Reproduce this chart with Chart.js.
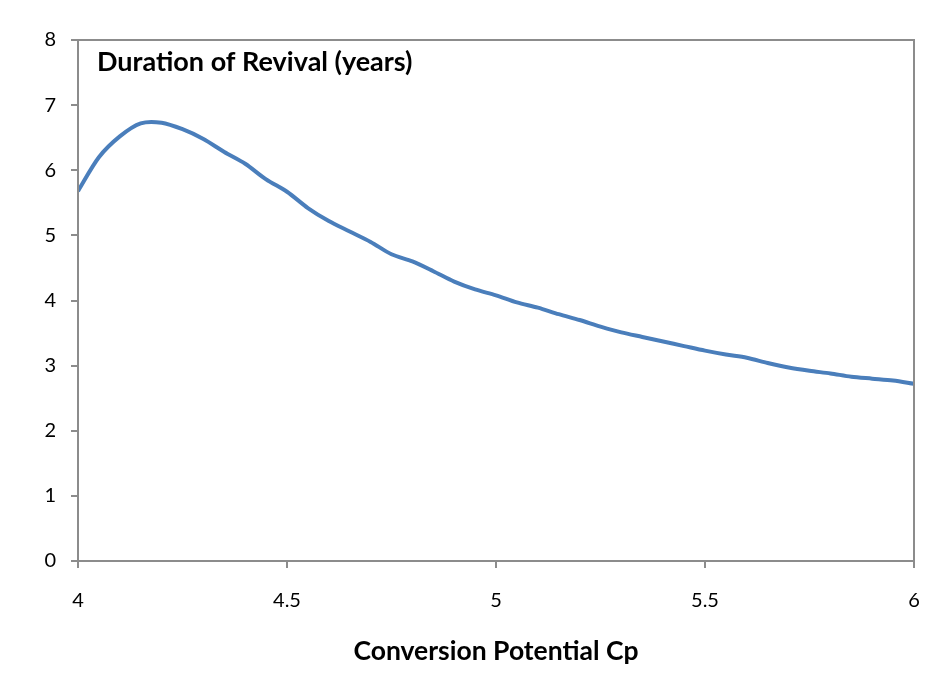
<!DOCTYPE html>
<html>
<head>
<meta charset="utf-8">
<script src="https://cdn.jsdelivr.net/npm/chart.js@4.4.1/dist/chart.umd.min.js"></script>
<style>
  html, body { margin:0; padding:0; background:#fff; }
  #wrap { width:935px; height:677px; }
</style>
</head>
<body>
<div id="wrap"><canvas id="grafico" width="935" height="677"></canvas></div>
<script>
// ─── DADOS ───────────────────────────────────────────────────────────────────
const cp       = [4.00,4.05,4.10,4.15,4.20,4.25,4.30,4.35,4.40,4.45,4.50,4.55,4.60,4.65,4.70,4.75,4.80,4.85,4.90,4.95,
                  5.00,5.05,5.10,5.15,5.20,5.25,5.30,5.35,5.40,5.45,5.50,5.55,5.60,5.65,5.70,5.75,5.80,5.85,5.90,5.95,6.00];
const duracao  = [5.68,6.20,6.52,6.72,6.73,6.63,6.48,6.28,6.10,5.86,5.67,5.42,5.22,5.06,4.90,4.71,4.60,4.45,4.29,4.17,
                  4.08,3.97,3.89,3.79,3.70,3.60,3.51,3.44,3.37,3.30,3.23,3.17,3.12,3.04,2.97,2.92,2.88,2.83,2.80,2.77,2.72];
const xTicks   = [4, 4.5, 5, 5.5, 6];
const yTicks   = [0, 1, 2, 3, 4, 5, 6, 7, 8];
const tituloGrafico = "Duration of Revival (years)";
const tituloX       = "Conversion Potential Cp";

const CINZA = "#8c8c8c";
const AZUL  = "#4a7ebb";
const FONTE = "Lato";

// moldura em volta da área do gráfico + título interno
const molduraPlugin = {
  id: "moldura",
  afterDraw(chart){
    const { ctx, chartArea: a } = chart;
    ctx.save();
    ctx.strokeStyle = CINZA;
    ctx.lineWidth = 2;
    ctx.strokeRect(a.left, a.top, a.right - a.left, a.bottom - a.top);
    ctx.fillStyle = "#000";
    ctx.font = `bold 27px ${FONTE}`;
    ctx.textBaseline = "alphabetic";
    ctx.fillText(tituloGrafico, a.left + 19, a.top + 31);
    ctx.restore();
  }
};

const ctx = document.getElementById("grafico").getContext("2d");
new Chart(ctx, {
  type: "line",
  data: {
    datasets: [{
      data: cp.map((x, i) => ({ x, y: duracao[i] })),
      borderColor: AZUL,
      borderWidth: 4,
      pointRadius: 0,
      tension: 0.3,
      fill: false
    }]
  },
  options: {
    responsive: false,
    animation: false,
    layout: { padding: { left: 0, top: 40, right: 21, bottom: 0 } },
    plugins: { legend: { display: false }, tooltip: { enabled: false }, title: { display: false } },
    scales: {
      x: {
        type: "linear", min: 4, max: 6,
        afterFit: s => { s.height = 116; s.paddingLeft = 0; s.paddingRight = 0; },
        afterBuildTicks: s => { s.ticks = xTicks.map(v => ({ value: v })); },
        grid: { drawOnChartArea: false, drawTicks: true, tickLength: 7, color: CINZA, lineWidth: 2 },
        border: { display: true, color: CINZA, width: 2 },
        ticks: { color: "#000", padding: 21, font: { family: FONTE, size: 20 }, callback: v => String(v) },
        title: { display: true, text: tituloX, color: "#000", font: { family: FONTE, size: 26.5, weight: "bold" }, padding: { top: 0, bottom: 10 } }
      },
      y: {
        min: 0, max: 8,
        afterFit: s => { s.width = 78; s.paddingTop = 0; s.paddingBottom = 0; },
        afterBuildTicks: s => { s.ticks = yTicks.map(v => ({ value: v })); },
        grid: { drawOnChartArea: false, drawTicks: true, tickLength: 7, color: CINZA, lineWidth: 2 },
        border: { display: true, color: CINZA, width: 2 },
        ticks: { color: "#000", padding: 15, font: { family: FONTE, size: 20 } }
      }
    }
  },
  plugins: [molduraPlugin]
});
</script>
</body>
</html>
